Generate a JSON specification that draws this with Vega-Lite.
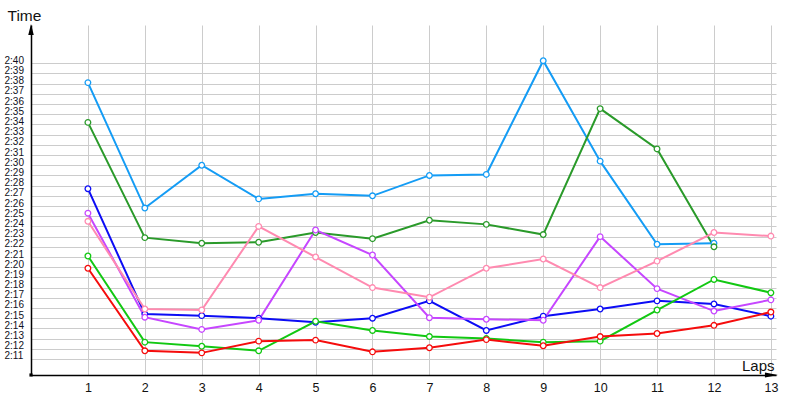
{
  "$schema": "https://vega.github.io/schema/vega-lite/v6.json",
  "width": 745,
  "height": 350,
  "autosize": {"type": "none"},
  "padding": {"left": 31, "top": 25, "right": 24, "bottom": 25},
  "background": "white",
  "config": {
    "view": {"stroke": null},
    "font": "Liberation Sans"
  },
  "datasets": {
    "laps": [
      {"driver": "A", "lap": 1, "time": 158.1}, {"driver": "A", "lap": 2, "time": 145.8}, {"driver": "A", "lap": 3, "time": 150.0}, {"driver": "A", "lap": 4, "time": 146.7}, {"driver": "A", "lap": 5, "time": 147.2}, {"driver": "A", "lap": 6, "time": 147.0}, {"driver": "A", "lap": 7, "time": 149.0}, {"driver": "A", "lap": 8, "time": 149.1}, {"driver": "A", "lap": 9, "time": 160.25}, {"driver": "A", "lap": 10, "time": 150.4}, {"driver": "A", "lap": 11, "time": 142.25}, {"driver": "A", "lap": 12, "time": 142.35},
      {"driver": "B", "lap": 1, "time": 154.2}, {"driver": "B", "lap": 2, "time": 142.9}, {"driver": "B", "lap": 3, "time": 142.35}, {"driver": "B", "lap": 4, "time": 142.45}, {"driver": "B", "lap": 5, "time": 143.4}, {"driver": "B", "lap": 6, "time": 142.8}, {"driver": "B", "lap": 7, "time": 144.6}, {"driver": "B", "lap": 8, "time": 144.2}, {"driver": "B", "lap": 9, "time": 143.2}, {"driver": "B", "lap": 10, "time": 155.55}, {"driver": "B", "lap": 11, "time": 151.6}, {"driver": "B", "lap": 12, "time": 142.0},
      {"driver": "C", "lap": 1, "time": 147.7}, {"driver": "C", "lap": 2, "time": 135.4}, {"driver": "C", "lap": 3, "time": 135.25}, {"driver": "C", "lap": 4, "time": 135.0}, {"driver": "C", "lap": 5, "time": 134.6}, {"driver": "C", "lap": 6, "time": 135.0}, {"driver": "C", "lap": 7, "time": 136.7}, {"driver": "C", "lap": 8, "time": 133.8}, {"driver": "C", "lap": 9, "time": 135.2}, {"driver": "C", "lap": 10, "time": 135.9}, {"driver": "C", "lap": 11, "time": 136.7}, {"driver": "C", "lap": 12, "time": 136.4}, {"driver": "C", "lap": 13, "time": 135.2},
      {"driver": "D", "lap": 1, "time": 145.3}, {"driver": "D", "lap": 2, "time": 135.1}, {"driver": "D", "lap": 3, "time": 133.9}, {"driver": "D", "lap": 4, "time": 134.8}, {"driver": "D", "lap": 5, "time": 143.65}, {"driver": "D", "lap": 6, "time": 141.2}, {"driver": "D", "lap": 7, "time": 135.05}, {"driver": "D", "lap": 8, "time": 134.9}, {"driver": "D", "lap": 9, "time": 134.8}, {"driver": "D", "lap": 10, "time": 143.0}, {"driver": "D", "lap": 11, "time": 137.9}, {"driver": "D", "lap": 12, "time": 135.7}, {"driver": "D", "lap": 13, "time": 136.8},
      {"driver": "E", "lap": 1, "time": 144.5}, {"driver": "E", "lap": 2, "time": 135.9}, {"driver": "E", "lap": 3, "time": 135.8}, {"driver": "E", "lap": 4, "time": 144.0}, {"driver": "E", "lap": 5, "time": 141.0}, {"driver": "E", "lap": 6, "time": 138.0}, {"driver": "E", "lap": 7, "time": 137.05}, {"driver": "E", "lap": 8, "time": 139.9}, {"driver": "E", "lap": 9, "time": 140.8}, {"driver": "E", "lap": 10, "time": 138.0}, {"driver": "E", "lap": 11, "time": 140.6}, {"driver": "E", "lap": 12, "time": 143.4}, {"driver": "E", "lap": 13, "time": 143.05},
      {"driver": "F", "lap": 1, "time": 141.1}, {"driver": "F", "lap": 2, "time": 132.65}, {"driver": "F", "lap": 3, "time": 132.25}, {"driver": "F", "lap": 4, "time": 131.8}, {"driver": "F", "lap": 5, "time": 134.7}, {"driver": "F", "lap": 6, "time": 133.8}, {"driver": "F", "lap": 7, "time": 133.2}, {"driver": "F", "lap": 8, "time": 133.0}, {"driver": "F", "lap": 9, "time": 132.65}, {"driver": "F", "lap": 10, "time": 132.75}, {"driver": "F", "lap": 11, "time": 135.8}, {"driver": "F", "lap": 12, "time": 138.8}, {"driver": "F", "lap": 13, "time": 137.5},
      {"driver": "G", "lap": 1, "time": 139.9}, {"driver": "G", "lap": 2, "time": 131.8}, {"driver": "G", "lap": 3, "time": 131.6}, {"driver": "G", "lap": 4, "time": 132.75}, {"driver": "G", "lap": 5, "time": 132.85}, {"driver": "G", "lap": 6, "time": 131.7}, {"driver": "G", "lap": 7, "time": 132.1}, {"driver": "G", "lap": 8, "time": 132.9}, {"driver": "G", "lap": 9, "time": 132.3}, {"driver": "G", "lap": 10, "time": 133.2}, {"driver": "G", "lap": 11, "time": 133.5}, {"driver": "G", "lap": 12, "time": 134.3}, {"driver": "G", "lap": 13, "time": 135.6}
    ]
  },
  "layer": [
    {
      "data": {"name": "laps"},
      "mark": {"type": "line", "strokeWidth": 2, "point": {"filled": false, "fill": "white", "size": 32, "strokeWidth": 1.3, "opacity": 1}},
      "encoding": {
        "x": {
          "field": "lap", "type": "quantitative",
          "scale": {"domain": [0, 13.09], "nice": false, "zero": false},
          "axis": {
            "values": [1, 2, 3, 4, 5, 6, 7, 8, 9, 10, 11, 12, 13],
            "tickCount": 50,
            "format": "d",
            "grid": true, "gridColor": "#cccccc", "gridWidth": 1,
            "ticks": false, "tickSize": 0,
            "domainColor": "#000000", "domainWidth": 1.5,
            "labelFont": "Liberation Sans", "labelFontSize": 12.5, "labelColor": "#111111",
            "labelPadding": 6, "labelBaseline": "top", "labelOverlap": false,
            "title": "Laps", "titleFont": "Liberation Sans", "titleFontSize": 15, "titleFontWeight": "normal", "titleColor": "#111111",
            "titleAnchor": "end", "titleAlign": "right", "titleBaseline": "alphabetic",
            "titleX": 743, "titleY": -5
          }
        },
        "y": {
          "field": "time", "type": "quantitative",
          "scale": {"domain": [129.43, 163.75], "nice": false, "zero": false},
          "axis": {
            "values": [131, 132, 133, 134, 135, 136, 137, 138, 139, 140, 141, 142, 143, 144, 145, 146, 147, 148, 149, 150, 151, 152, 153, 154, 155, 156, 157, 158, 159, 160],
            "tickCount": 100,
            "labelExpr": "floor(datum.value / 60) + ':' + (datum.value % 60 < 10 ? '0' : '') + (datum.value % 60)",
            "grid": true, "gridColor": "#cccccc", "gridWidth": 1,
            "ticks": false, "tickSize": 0,
            "domainColor": "#000000", "domainWidth": 1.5,
            "labelFont": "Liberation Sans", "labelFontSize": 10, "labelColor": "#111122",
            "labelAlign": "left", "labelBaseline": "alphabetic", "labelPadding": 27, "labelOverlap": false,
            "title": "Time", "titleFont": "Liberation Sans", "titleFontSize": 15.5, "titleFontWeight": "normal", "titleColor": "#111111",
            "titleAngle": 0, "titleAlign": "left", "titleBaseline": "alphabetic",
            "titleX": -24, "titleY": -5
          }
        },
        "color": {
          "field": "driver", "type": "nominal",
          "scale": {"domain": ["A", "B", "C", "D", "E", "F", "G"], "range": ["#149cf5", "#2a9a2a", "#0c0cf5", "#c646ff", "#ff8ab0", "#12c812", "#f50c0c"]},
          "legend": null
        }
      }
    },
    {
      "data": {"values": [{}]},
      "mark": {"type": "point", "shape": "M0,-1L-0.5,1L0.5,1Z", "filled": true, "color": "#000000", "size": 121, "opacity": 1},
      "encoding": {
        "x": {"datum": 0, "type": "quantitative"},
        "y": {"datum": 163.31, "type": "quantitative"}
      }
    },
    {
      "data": {"values": [{}]},
      "mark": {"type": "point", "shape": "M1,0L-1,-0.4L-1,0.4Z", "filled": true, "color": "#000000", "size": 169, "opacity": 1},
      "encoding": {
        "x": {"datum": 13.01, "type": "quantitative"},
        "y": {"datum": 129.43, "type": "quantitative"}
      }
    },
    {
      "data": {"values": [{}]},
      "mark": {"type": "square", "filled": true, "color": "#000000", "size": 10, "opacity": 1},
      "encoding": {
        "x": {"datum": 0, "type": "quantitative"},
        "y": {"datum": 129.43, "type": "quantitative"}
      }
    }
  ]
}
